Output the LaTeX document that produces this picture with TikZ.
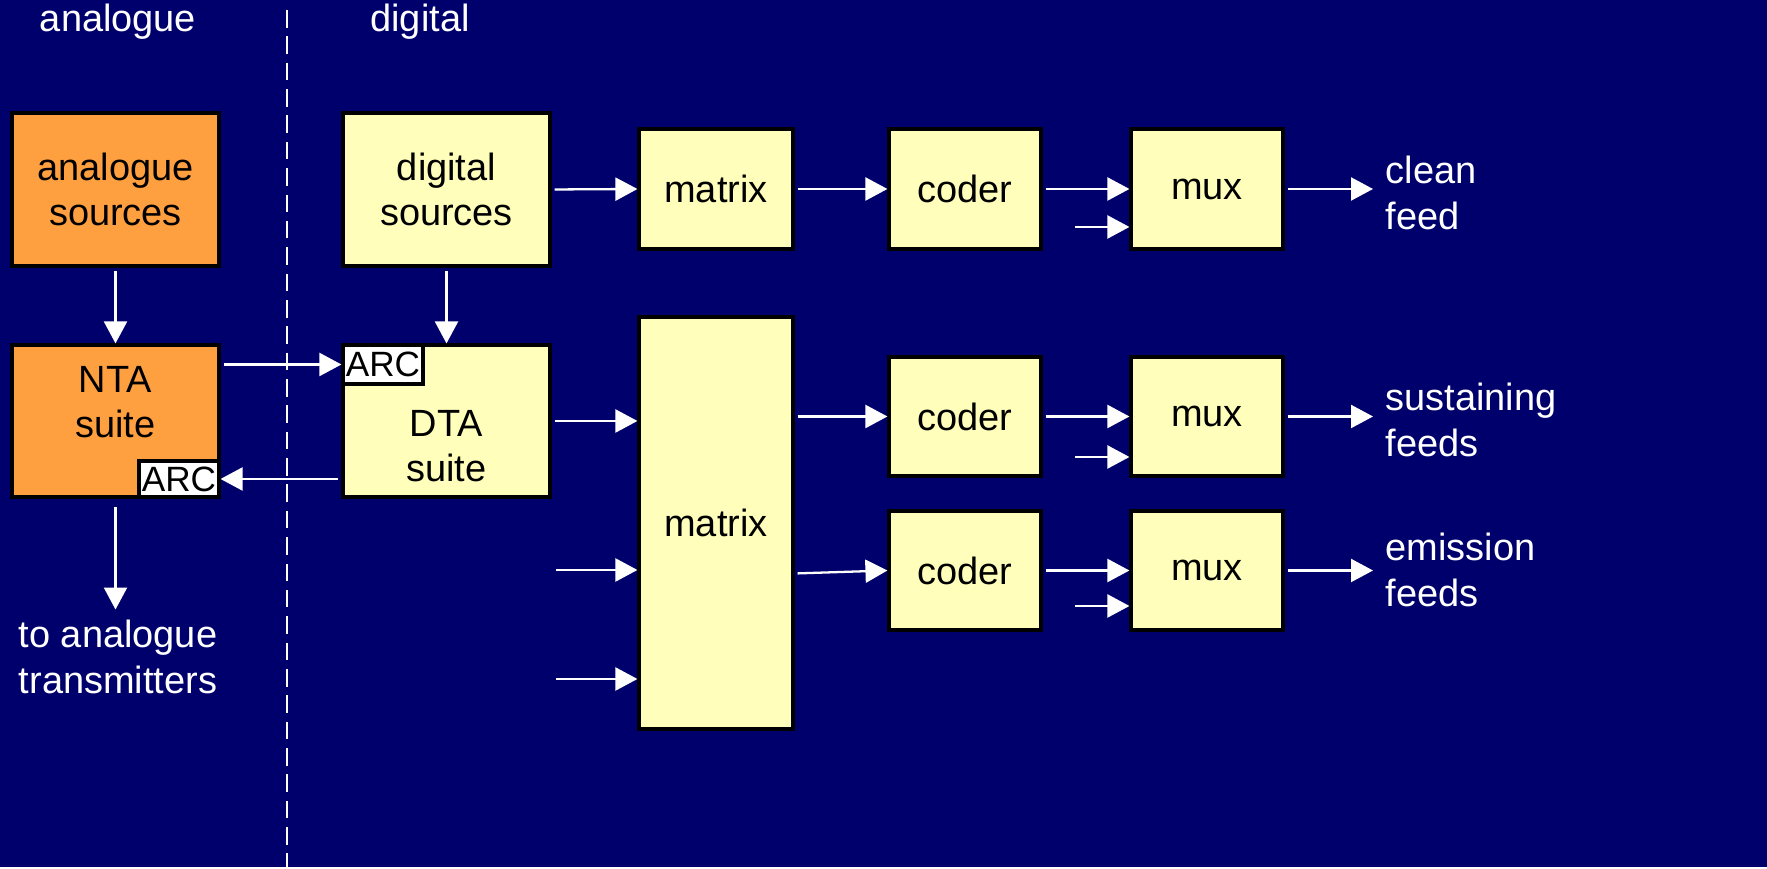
\documentclass[tikz,border=0pt]{standalone}
\usepackage{fontspec}
\setmainfont{Liberation Sans}
\usetikzlibrary{arrows.meta}

\definecolor{sfondo}{RGB}{0,0,108}
\definecolor{giallo}{RGB}{255,255,187}
\definecolor{arancio}{RGB}{255,160,64}

\begin{document}
\begin{tikzpicture}[
    font=\fontsize{10.8}{13}\selectfont,
    >={Triangle[length=0.22cm,width=0.23cm]},
    blocco/.style={draw=black, line width=0.9pt, fill=giallo, align=center, inner sep=0pt},
    piccolo/.style={blocco, fill=white, minimum width=0.8cm, minimum height=0.38cm, font=\fontsize{10}{12}\selectfont},
    freccia/.style={->, white, line width=0.65pt, shorten <=0.03cm},
    scritta/.style={text=white, inner sep=0pt}
]
    % Sfondo
    \fill[sfondo] (0,0) rectangle (17.67,8.67);
    % Separazione analogico / digitale
    \draw[white, line width=0.6pt, dash pattern=on 5pt off 2.5pt] (2.87,8.57) -- (2.87,0);
    \node[scritta] (hanalog) at (1.18,8.45) {analogue};
    \node[scritta] (hdigit) at (4.20,8.45) {digital};
    % Parte analogica
    \node[blocco, fill=arancio, minimum width=2.07cm, minimum height=1.53cm] (asrc) at (1.155,6.775) {analogue\\sources};
    \node[blocco, fill=arancio, minimum width=2.07cm, minimum height=1.52cm] (nta) at (1.155,4.46) {};
    \node[inner sep=0pt, align=center] (ntatxt) at (1.155,4.65) {NTA\\suite};
    \node[piccolo, minimum height=0.36cm] (arcn) at (1.79,3.88) {ARC};
    \node[scritta, align=center] (tx) at (1.18,2.10) {to analogue\\transmitters};
    % Parte digitale
    \node[blocco, minimum width=2.07cm, minimum height=1.53cm] (dsrc) at (4.465,6.775) {digital\\sources};
    \node[blocco, minimum width=2.07cm, minimum height=1.52cm] (dta) at (4.465,4.46) {};
    \node[inner sep=0pt, align=center] (dtatxt) at (4.465,4.21) {DTA\\suite};
    \node[piccolo, minimum height=0.39cm] (arcd) at (3.83,5.025) {ARC};
    % Matrici
    \node[blocco, minimum width=1.54cm, minimum height=1.2cm] (mat1) at (7.16,6.78) {matrix};
    \node[blocco, minimum width=1.54cm, minimum height=4.12cm] (mat2) at (7.16,3.44) {matrix};
    % Coder e mux
    \node[blocco, minimum width=1.52cm, minimum height=1.2cm] (cod1) at (9.65,6.78) {coder};
    \node[blocco, minimum width=1.52cm, minimum height=1.19cm] (cod2) at (9.65,4.505) {coder};
    \node[blocco, minimum width=1.52cm, minimum height=1.19cm] (cod3) at (9.65,2.965) {coder};
    \node[blocco, minimum width=1.52cm, minimum height=1.2cm] (mux1) at (12.07,6.78) {mux};
    \node[blocco, minimum width=1.52cm, minimum height=1.19cm] (mux2) at (12.07,4.505) {mux};
    \node[blocco, minimum width=1.52cm, minimum height=1.19cm] (mux3) at (12.07,2.965) {mux};
    % Uscite
    \node[scritta, anchor=west, align=left] (clean) at (13.85,6.74) {clean\\feed};
    \node[scritta, anchor=west, align=left] (sust) at (13.85,4.47) {sustaining\\feeds};
    \node[scritta, anchor=west, align=left] (emis) at (13.85,2.97) {emission\\feeds};
    % Ingressi liberi
    \coordinate (in1) at (5.53,2.97);
    \coordinate (in2) at (5.53,1.88);
    \coordinate (ex1) at (10.72,6.40);
    \coordinate (ex2) at (10.72,4.10);
    \coordinate (ex3) at (10.72,2.61);
    % Frecce lato analogico
    \draw[freccia] (asrc) -- (nta);
    \draw[freccia, shorten <=0.08cm, shorten >=0.1cm] (nta.south) -- (nta.south |- tx.north);
    \draw[freccia] (arcd.west -| nta.east) -- (arcd.west);
    \draw[freccia] (dta.west |- arcn.east) -- (arcn.east);
    % Frecce lato digitale
    \draw[freccia] (dsrc) -- (dta);
    \draw[freccia] (dsrc.east) -- (mat1.west);
    \draw[freccia] (dta.east) -- (dta.east -| mat2.west);
    \draw[freccia] (in1) -- (in1 -| mat2.west);
    \draw[freccia] (in2) -- (in2 -| mat2.west);
    \draw[freccia] (mat1) -- (cod1);
    \draw[freccia] (mat2.east |- cod2.west) -- (cod2.west);
    \draw[freccia] ([yshift=-0.03cm]mat2.east |- cod3.west) -- (cod3.west);
    \draw[freccia] (cod1) -- (mux1);
    \draw[freccia] (cod2) -- (mux2);
    \draw[freccia] (cod3) -- (mux3);
    \draw[freccia] (ex1) -- (ex1 -| mux1.west);
    \draw[freccia] (ex2) -- (ex2 -| mux2.west);
    \draw[freccia] (ex3) -- (ex3 -| mux3.west);
    \draw[freccia, shorten >=0.12cm] (mux1.east) -- (mux1.east -| clean.west);
    \draw[freccia, shorten >=0.12cm] (mux2.east) -- (mux2.east -| sust.west);
    \draw[freccia, shorten >=0.12cm] (mux3.east) -- (mux3.east -| emis.west);
\end{tikzpicture}
\end{document}
